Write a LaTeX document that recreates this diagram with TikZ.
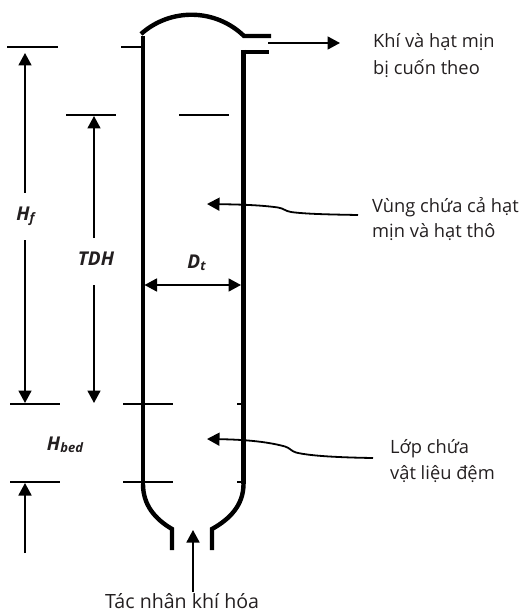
\documentclass[tikz,border=0pt]{standalone}
\usepackage{fontspec}
\setmainfont{Open Sans}
\usetikzlibrary{arrows.meta}
\definecolor{ink}{HTML}{231F20}
\tikzset{
 wall/.style={line width=4.4pt,line cap=butt,line join=miter},
 tick/.style={line width=1.3pt},
 head/.tip={Triangle[length=12.5pt,width=13pt]},
 arr/.style={line width=1.8pt,-head},
 darr/.style={line width=1.8pt,head-head},
 lbl/.style={anchor=base west,text=ink,font=\fontsize{18.3pt}{22pt}\selectfont,inner sep=0pt},
 lblc/.style={lbl,font=\fontsize{19.6pt}{22pt}\selectfont},
 sym/.style={text=ink,font=\fontsize{19pt}{22pt}\selectfont\bfseries\itshape,inner sep=0pt,anchor=base},
}
\newcommand{\smallsub}[1]{\raisebox{-2.5pt}{\fontsize{13pt}{15pt}\selectfont #1}}
\begin{document}
\begin{tikzpicture}[x=1pt,y=-1pt]
\useasboundingbox (0,0) rectangle (521,612);
\coordinate (Lt) at (143,36);\coordinate (Lb) at (143,484);
\coordinate (Rt) at (243.5,50);\coordinate (Rb) at (243.5,484);
\draw[wall] (Lt) -- (Lb);
\draw[wall] (Rt) -- (Rb);
\draw[wall] (141,34) .. controls (170,8) and (215,8) .. (244,36) -- (271,36);
\draw[wall] (242,52) -- (269,52);
\draw[wall] (Lb) .. controls (143,505) and (155,519) .. (172,529) -- (172,550);
\draw[wall] (Rb) .. controls (243.5,505) and (230,519) .. (212,529) -- (212,550);
\foreach \a/\b/\y in {7/58/47,121/141/47,66/116/115,179/229/115,10/60/404,123/173/404,237/242/404,10/60/482,123/173/482,237/242/482}
  \draw[tick] (\a,\y) -- (\b,\y);
\coordinate (a1) at (268,43);\coordinate (a2) at (340,43);
\draw[arr] (a1) -- (a2);
\draw[arr] (25,193) -- (25,53);
\draw[arr] (25,240) -- (25,403);
\draw[arr] (94,238) -- (94,116);
\draw[arr] (94,285) -- (94,403);
\draw[arr] (25,553) -- (25,483);
\draw[arr] (193,592) -- (193,530);
\draw[darr] (144.5,285) -- (241,285);
\draw[arr] (358,215) .. controls (330,214.5) and (305,214) .. (291,212) .. controls (285,211) and (284,208.5) .. (278,207.5) .. controls (260,205) and (240,204.5) .. (207,204);
\draw[arr] (373,458) .. controls (340,457.5) and (310,456) .. (296,452.5) .. controls (291,451) and (290,448) .. (285,446.5) .. controls (265,441) and (240,439.5) .. (207,439);
\node[lbl] (t1) at (373,48) {Khí và hạt mịn};
\node[lbl] (t2) at (373,75) {bị cuốn theo};
\node[lbl] (t3) at (372,212) {Vùng chứa cả hạt};
\node[lbl] (t4) at (372,237) {mịn và hạt thô};
\node[lbl] (t5) at (390,453) {Lớp chứa};
\node[lbl] (t6) at (390,479) {vật liệu đệm};
\node[lblc] (t7) at (105,608) {Tác nhân khí hóa};
\node[sym] (hf) at (25.5,220) {H\smallsub{f}};
\node[sym] (tdh) at (96,265) {TDH};
\node[sym] (dt) at (196.5,268) {D\smallsub{t}};
\node[sym] (hb) at (65,450) {H\smallsub{bed}};
\end{tikzpicture}
\end{document}
